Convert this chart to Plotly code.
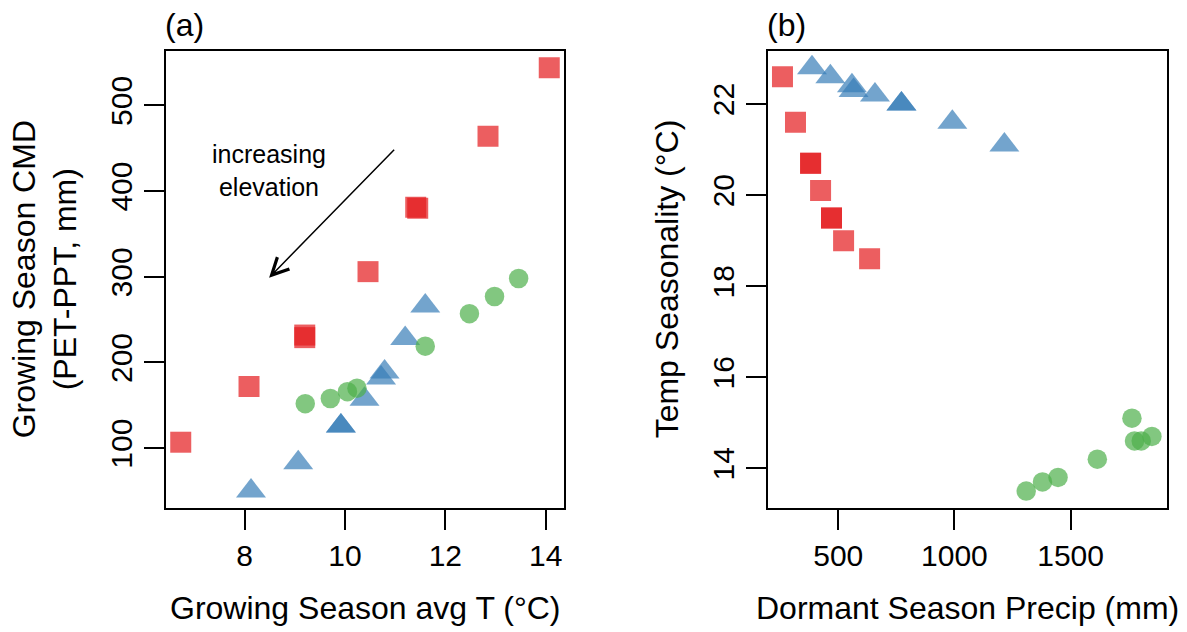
import plotly.graph_objects as go

# ---------------- data ----------------
# Panel (a): Growing season avg T (°C) vs Growing season CMD (mm)
sq_a_x = [6.73, 8.09, 9.20, 9.20, 10.46, 11.41, 11.45, 12.85, 14.07]
sq_a_y = [107, 172, 232, 229, 306, 381, 380, 464, 544]
tri_a_x = [8.13, 9.07, 9.92, 9.92, 10.39, 10.72, 10.79, 11.20, 11.60]
tri_a_y = [50, 83, 126, 126, 157, 182, 189, 228, 266]
circ_a_x = [9.21, 9.71, 10.05, 10.24, 11.60, 12.48, 12.98, 13.46]
circ_a_y = [152, 158, 166, 170, 219, 257, 277, 298]

# Panel (b): Dormant season precip (mm) vs Temp seasonality (°C)
sq_b_x = [260, 316, 381, 381, 424, 471, 471, 523, 635]
sq_b_y = [22.6, 21.6, 20.7, 20.7, 20.1, 19.5, 19.5, 19.0, 18.6]
tri_b_x = [387, 466, 559, 566, 658, 772, 772, 991, 1215]
tri_b_y = [22.8, 22.6, 22.4, 22.3, 22.2, 22.0, 22.0, 21.6, 21.1]
circ_b_x = [1309, 1379, 1446, 1615, 1764, 1775, 1804, 1850]
circ_b_y = [13.5, 13.7, 13.8, 14.2, 15.1, 14.6, 14.6, 14.7]

ticks_a_x = [8, 10, 12, 14]
ticks_a_y = [100, 200, 300, 400, 500]
ticks_b_x = [500, 1000, 1500]
ticks_b_y = [14, 16, 18, 20, 22]

arrow_from = (11.01, 450)
arrow_to = (8.49, 299)
arrow_label = (8.49, 424)

# ---------------- style ----------------
RED = "rgba(228,26,28,0.7)"
BLUE = "rgba(55,126,184,0.7)"
GREEN = "rgba(77,175,74,0.7)"
FONT = "Liberation Sans, Arial, sans-serif"
FS = 30      # tick labels
FT = 32      # axis titles / panel labels

W, H = 1187, 632


def rrange(vals):
    lo, hi = min(vals), max(vals)
    pad = 0.04 * (hi - lo)
    return [lo - pad, hi + pad]


fig = go.Figure()


def add_group(x, y, symbol, color, size, xa, ya):
    fig.add_trace(go.Scatter(
        x=x, y=y, mode="markers", xaxis=xa, yaxis=ya,
        marker=dict(symbol=symbol, color=color, size=size, line=dict(width=0)),
        showlegend=False, hoverinfo="skip"))


add_group(sq_a_x, sq_a_y, "square", RED, 21, "x", "y")
add_group(tri_a_x, tri_a_y, "triangle-up", BLUE, 26, "x", "y")
add_group(circ_a_x, circ_a_y, "circle", GREEN, 19.5, "x", "y")
add_group(sq_b_x, sq_b_y, "square", RED, 21, "x2", "y2")
add_group(tri_b_x, tri_b_y, "triangle-up", BLUE, 26, "x2", "y2")
add_group(circ_b_x, circ_b_y, "circle", GREEN, 19.5, "x2", "y2")

ax_common = dict(
    showline=True, mirror=True, linecolor="black", linewidth=2,
    ticks="outside", ticklen=20, tickwidth=2, tickcolor="black",
    showgrid=False, zeroline=False,
    tickfont=dict(family=FONT, size=FS, color="black"),
    automargin=False, fixedrange=True,
)

xa_dom = [166 / W, 564 / W]
xb_dom = [767.7 / W, 1166.7 / W]
y_dom = [1 - 508 / H, 1 - 50.7 / H]

fig.update_layout(
    width=W, height=H,
    margin=dict(l=0, r=0, t=0, b=0),
    paper_bgcolor="white", plot_bgcolor="white",
    font=dict(family=FONT, size=FS, color="black"),
    xaxis=dict(domain=xa_dom, anchor="y", range=rrange(sq_a_x + tri_a_x + circ_a_x),
               tickvals=ticks_a_x, ticklabelstandoff=0, **ax_common),
    yaxis=dict(domain=y_dom, anchor="x", range=rrange(sq_a_y + tri_a_y + circ_a_y),
               tickvals=ticks_a_y, tickangle=-90, ticklabelstandoff=0, **ax_common),
    xaxis2=dict(domain=xb_dom, anchor="y2", range=rrange(sq_b_x + tri_b_x + circ_b_x),
                tickvals=ticks_b_x, ticklabelstandoff=0, **ax_common),
    yaxis2=dict(domain=y_dom, anchor="x2", range=rrange(sq_b_y + tri_b_y + circ_b_y),
                tickvals=ticks_b_y, tickangle=-90, ticklabelstandoff=0, **ax_common),
)

ann = []
# arrow
ann.append(dict(x=arrow_to[0], y=arrow_to[1], ax=arrow_from[0], ay=arrow_from[1],
                xref="x", yref="y", axref="x", ayref="y", text="",
                showarrow=True, arrowhead=5, arrowsize=2.2, arrowwidth=1.5,
                arrowcolor="black", standoff=0))
ann.append(dict(x=arrow_label[0], y=arrow_label[1], xref="x", yref="y",
                text="increasing<br>elevation", showarrow=False,
                font=dict(family=FONT, size=25, color="black"),
                xanchor="center", yanchor="middle"))
# panel labels
ann.append(dict(x=163 / W, y=1 - 25 / H, xref="paper", yref="paper", text="(a)",
                showarrow=False, xanchor="left", yanchor="middle",
                font=dict(family=FONT, size=FT)))
ann.append(dict(x=765 / W, y=1 - 25 / H, xref="paper", yref="paper", text="(b)",
                showarrow=False, xanchor="left", yanchor="middle",
                font=dict(family=FONT, size=FT)))
# axis titles
ann.append(dict(x=(xa_dom[0] + xa_dom[1]) / 2, y=1 - 608 / H, xref="paper", yref="paper",
                text="Growing Season avg T (°C)", showarrow=False,
                xanchor="center", yanchor="middle", font=dict(family=FONT, size=FT)))
ann.append(dict(x=(xb_dom[0] + xb_dom[1]) / 2, y=1 - 608 / H, xref="paper", yref="paper",
                text="Dormant Season Precip (mm)", showarrow=False,
                xanchor="center", yanchor="middle", font=dict(family=FONT, size=FT)))
ann.append(dict(x=45 / W, y=(y_dom[0] + y_dom[1]) / 2, xref="paper", yref="paper",
                text="Growing Season CMD<br>(PET-PPT, mm)", showarrow=False, textangle=-90,
                xanchor="center", yanchor="middle", font=dict(family=FONT, size=FT)))
ann.append(dict(x=667 / W, y=(y_dom[0] + y_dom[1]) / 2, xref="paper", yref="paper",
                text="Temp Seasonality (°C)", showarrow=False, textangle=-90,
                xanchor="center", yanchor="middle", font=dict(family=FONT, size=FT)))
fig.update_layout(annotations=ann)

fig.write_html("out.html", config={"displayModeBar": False})
